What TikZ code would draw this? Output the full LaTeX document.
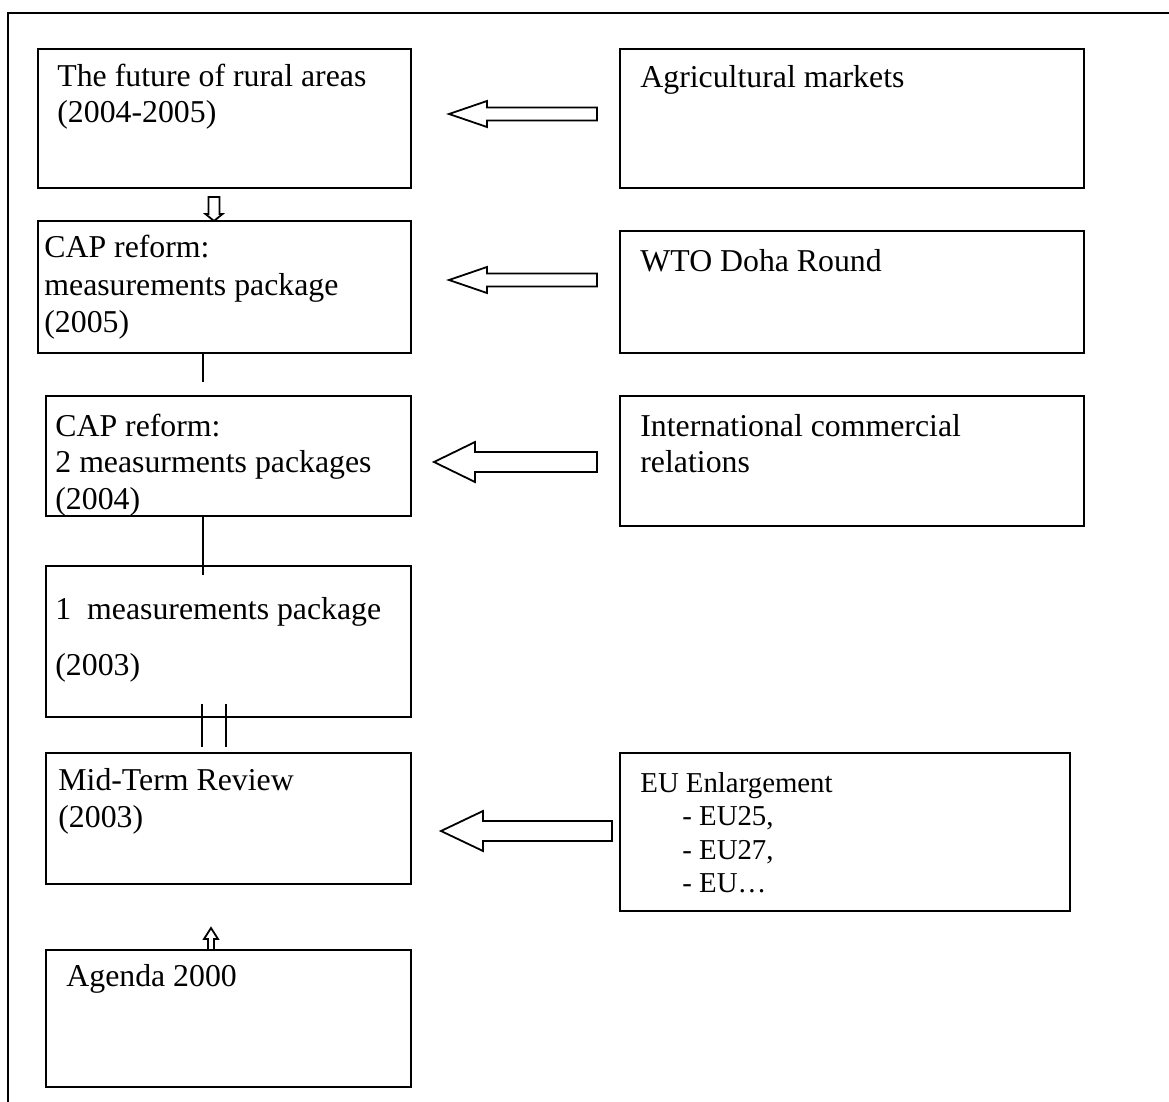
\documentclass[tikz,border=0pt]{standalone}
\usepackage{fontspec}
\setmainfont{Liberation Serif}
\begin{document}
\begin{tikzpicture}[x=0.5pt,y=-0.5pt,
  frame/.style={line width=1.2pt},
  box/.style={draw, line width=1pt, inner sep=0pt, anchor=north west},
  label/.style={inner sep=0pt, anchor=base west},
  link/.style={line width=1pt},
  blockarrow/.style={draw, line width=0.9pt, line join=miter, fill=white}]

% page and outer frame (runs past the right and bottom edges)
\useasboundingbox (0,0) rectangle (1169,1102);
\clip (0,0) rectangle (1169,1102);
\draw[frame] (8,13) rectangle (1190,1120);

% text block: #1 = line spacing (pt), #2 = size (pt), #3 = lines
\newcommand{\txt}[3]{{\fontsize{#2}{#1}\selectfont\begin{tabular}[t]{@{}l@{}}#3\end{tabular}}}

% box: name, left, top, right, bottom
\newcommand{\boxat}[5]{\node[box, minimum width={(#4-#2)*0.5pt}, minimum height={(#5-#3)*0.5pt}] (#1) at (#2,#3) {};}

% left-pointing block arrow: tip x, head base x, tail x, centre y, half shaft, half head
\newcommand{\leftblock}[6]{\path[blockarrow] (#1,#4) -- (#2,#4-#6) -- (#2,#4-#5) -- (#3,#4-#5) -- (#3,#4+#5) -- (#2,#4+#5) -- (#2,#4+#6) -- cycle;}

% boxes
\boxat{rural}{37}{48}{410}{187}
\boxat{agri}{619}{48}{1083}{187}
\boxat{capA}{37}{220}{410}{352}
\boxat{wto}{619}{230}{1083}{352}
\boxat{capB}{45}{395}{410}{515}
\boxat{intl}{619}{395}{1083}{525}
\boxat{meas}{45}{565}{410}{716}
\boxat{mtr}{45}{752}{410}{883}
\boxat{eu}{619}{752}{1069}{910}
\boxat{agenda}{45}{949}{410}{1086}

% texts
\node[label] (trural) at (57,87) {\txt{17.75}{15.9}{The future of rural areas\\(2004-2005)}};
\node[label] (tagri) at (640,88) {\txt{17.5}{15.9}{Agricultural markets}};
\node[label] (tcapA) at (44,257) {\txt{19}{15.9}{CAP reform:\\measurements package\\(2005)}};
\node[label] (twto) at (640,271) {\txt{17.5}{15.9}{WTO Doha Round}};
\node[label] (tcapB) at (55,436) {\txt{18.25}{15.9}{CAP reform:\\2 measurments packages\\(2004)}};
\node[label] (tintl) at (640,436) {\txt{18}{15.9}{International commercial\\relations}};
\node[label] (tmeas) at (55,619) {\txt{28}{15.9}{1\ \ measurements package\\(2003)}};
\node[label] (tmtr) at (58,790) {\txt{18.5}{15.9}{Mid-Term Review\\(2003)}};
\node[label] (teu) at (640,792) {\txt{16.75}{14.4}{EU Enlargement\\\hspace{21pt}- EU25,\\\hspace{21pt}- EU27,\\\hspace{21pt}- EU\ldots}};
\node[label] (tagenda) at (66,986) {\txt{17.5}{15.9}{Agenda 2000}};

% hollow arrows from the right-hand influences
\leftblock{449}{487}{597}{114}{6.5}{13}
\leftblock{449}{487}{597}{280}{6.5}{13}
\leftblock{434}{475}{597}{462}{10}{20}
\leftblock{441}{483}{612}{831}{10}{20}

% small hollow arrow down into the 2005 package
\path[blockarrow] (rural.south) ++(-16,8) -- ++(11,0) -- ++(0,17) -- ++(3,0) -- ++(-8.5,7) -- ++(-8.5,-7) -- ++(3,0) -- cycle;

% small hollow arrow up from Agenda 2000
\path[blockarrow] (agenda.north) ++(-20.5,1) -- ++(0,-11) -- ++(-4,0) -- ++(7,-11) -- ++(7,11) -- ++(-4,0) -- ++(0,11) -- cycle;

% plain links down the left column
\draw[link] (capA.south) ++(-21.5,0) -- ++(0,28);
\draw[link] (capB.south) ++(-25.5,0) -- ++(0,58);
\draw[link] (meas.south) ++(-26.5,-14) -- ++(0,43);
\draw[link] (meas.south) ++(-2.5,-14) -- ++(0,43);
\end{tikzpicture}
\end{document}
